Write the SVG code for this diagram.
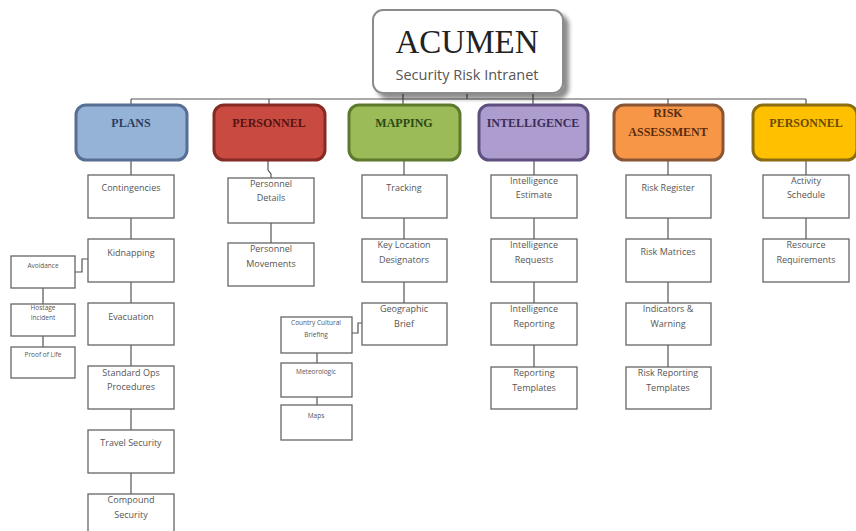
<svg xmlns="http://www.w3.org/2000/svg" width="856" height="531" viewBox="0 0 856 531">
<defs>
<filter id="sh" x="-10%" y="-10%" width="130%" height="140%">
<feGaussianBlur in="SourceAlpha" stdDeviation="2"/>
<feOffset dx="5" dy="5"/>
<feComponentTransfer><feFuncA type="linear" slope="0.45"/></feComponentTransfer>
<feMerge><feMergeNode/><feMergeNode in="SourceGraphic"/></feMerge>
</filter>
</defs>
<style>
.cat{stroke-width:3}
.ct{font-family:"Liberation Serif",serif;font-size:12px;font-weight:bold;text-anchor:middle}
.sb{fill:#fff;stroke:#666;stroke-width:1.3}
.st{font-family:"Open Sans","Liberation Sans",sans-serif;font-size:9px;fill:#555;text-anchor:middle}
.ss{font-family:"Open Sans","Liberation Sans",sans-serif;font-size:6.5px;fill:#555;text-anchor:middle}
.ln{fill:none;stroke:#555;stroke-width:1.2}
</style>
<rect width="856" height="531" fill="#fff"/>
<g id="connectors">
<path class="ln" d="M131 99 H806 M131 99 V105 M269 99 V105 M403 93 V105 M467 93 V99 M533 93 V105 M668 99 V105 M806 99 V105"/>
<path class="ln" d="M131 160 V175 M131 218 V239 M131 282 V303 M131 345 V366 M131 409 V430 M131 473 V494"/>
<path class="ln" d="M88 259 H82 V272 H75 M43 288 V304 M43 336 V347"/>
<path class="ln" d="M268 160 V170 L271 174 V178 M271 223 V243"/>
<path class="ln" d="M404 160 V175 M404 218 V239 M404 282 V303 M362 323 H358 V333 H352 M317 353 V363 M317 397 V405"/>
<path class="ln" d="M534 160 V175 M534 218 V239 M534 282 V303 M534 345 V367"/>
<path class="ln" d="M668 160 V175 M668 218 V239 M668 282 V303 M668 345 V367"/>
<path class="ln" d="M806 160 V175 M806 218 V239"/>
</g>
<g id="acumen">
<rect x="373" y="10" width="190" height="83" rx="10" fill="#fff" stroke="#8c8c8c" stroke-width="2" filter="url(#sh)"/>
<text x="467" y="53" font-family="Liberation Serif,serif" font-size="33" fill="#222" text-anchor="middle">ACUMEN</text>
<text x="467" y="80" font-family="Open Sans,Liberation Sans,sans-serif" font-size="14.5" fill="#555" text-anchor="middle">Security Risk Intranet</text>
</g>
<g id="cat-plans"><rect class="cat" x="76" y="105" width="111" height="55" rx="10" fill="#95b3d7" stroke="#566f92"/><text class="ct" x="131" y="127" fill="#2b3d5e">PLANS</text></g>
<g id="cat-personnel"><rect class="cat" x="214" y="105" width="111" height="55" rx="10" fill="#c84a40" stroke="#862a24"/><text class="ct" x="269" y="127" fill="#551410">PERSONNEL</text></g>
<g id="cat-mapping"><rect class="cat" x="349" y="105" width="111" height="55" rx="10" fill="#9bbb59" stroke="#5d7a2c"/><text class="ct" x="404" y="127" fill="#2d4912">MAPPING</text></g>
<g id="cat-intelligence"><rect class="cat" x="479" y="105" width="109" height="55" rx="10" fill="#ad9cce" stroke="#5f4f7f"/><text class="ct" x="533" y="127" fill="#3a2c5a">INTELLIGENCE</text></g>
<g id="cat-risk"><rect class="cat" x="614" y="105" width="109" height="55" rx="10" fill="#f79646" stroke="#8a5535"/><text class="ct" x="668" y="117" fill="#5a2c10">RISK</text><text class="ct" x="668" y="136" fill="#5a2c10">ASSESSMENT</text></g>
<g id="cat-personnel2"><rect class="cat" x="753" y="105" width="104" height="55" rx="10" fill="#ffc000" stroke="#8a6d12"/><text class="ct" x="806" y="127" fill="#6b4d00">PERSONNEL</text></g>
<g id="n-contingencies"><rect class="sb" x="88" y="175" width="86" height="43"/><text class="st" x="131" y="191">Contingencies</text></g>
<g id="n-kidnapping"><rect class="sb" x="88" y="239" width="86" height="43"/><text class="st" x="131" y="256">Kidnapping</text></g>
<g id="n-evacuation"><rect class="sb" x="88" y="303" width="86" height="42"/><text class="st" x="131" y="320">Evacuation</text></g>
<g id="n-sop"><rect class="sb" x="88" y="366" width="86" height="43"/><text class="st" x="131" y="376">Standard Ops</text><text class="st" x="131" y="390">Procedures</text></g>
<g id="n-travel"><rect class="sb" x="88" y="430" width="86" height="43"/><text class="st" x="131" y="446">Travel Security</text></g>
<g id="n-compound"><rect class="sb" x="88" y="494" width="86" height="43"/><text class="st" x="131" y="503">Compound</text><text class="st" x="131" y="518">Security</text></g>
<g id="n-avoidance"><rect class="sb" x="11" y="256" width="64" height="32"/><text class="ss" x="43" y="268">Avoidance</text></g>
<g id="n-hostage"><rect class="sb" x="11" y="304" width="64" height="32"/><text class="ss" x="43" y="310">Hostage</text><text class="ss" x="43" y="320">Incident</text></g>
<g id="n-proof"><rect class="sb" x="11" y="347" width="64" height="31"/><text class="ss" x="43" y="357">Proof of Life</text></g>
<g id="n-pdetails"><rect class="sb" x="228" y="178" width="86" height="45"/><text class="st" x="271" y="187">Personnel</text><text class="st" x="271" y="201">Details</text></g>
<g id="n-pmovements"><rect class="sb" x="228" y="243" width="86" height="43"/><text class="st" x="271" y="252">Personnel</text><text class="st" x="271" y="267">Movements</text></g>
<g id="n-tracking"><rect class="sb" x="362" y="175" width="85" height="43"/><text class="st" x="404" y="191">Tracking</text></g>
<g id="n-keyloc"><rect class="sb" x="362" y="239" width="85" height="43"/><text class="st" x="404" y="248">Key Location</text><text class="st" x="404" y="263">Designators</text></g>
<g id="n-geo"><rect class="sb" x="362" y="303" width="85" height="42"/><text class="st" x="404" y="312">Geographic</text><text class="st" x="404" y="327">Brief</text></g>
<g id="n-country"><rect class="sb" x="281" y="317" width="71" height="36"/><text class="ss" x="316" y="325">Country Cultural</text><text class="ss" x="316" y="337">Briefing</text></g>
<g id="n-meteo"><rect class="sb" x="281" y="363" width="71" height="34"/><text class="ss" x="316" y="374">Meteorologic</text></g>
<g id="n-maps"><rect class="sb" x="281" y="405" width="71" height="35"/><text class="ss" x="316" y="418">Maps</text></g>
<g id="n-iestimate"><rect class="sb" x="491" y="175" width="86" height="43"/><text class="st" x="534" y="184">Intelligence</text><text class="st" x="534" y="198">Estimate</text></g>
<g id="n-irequests"><rect class="sb" x="491" y="239" width="86" height="43"/><text class="st" x="534" y="248">Intelligence</text><text class="st" x="534" y="263">Requests</text></g>
<g id="n-ireporting"><rect class="sb" x="491" y="303" width="86" height="42"/><text class="st" x="534" y="312">Intelligence</text><text class="st" x="534" y="327">Reporting</text></g>
<g id="n-rtemplates"><rect class="sb" x="491" y="367" width="86" height="42"/><text class="st" x="534" y="376">Reporting</text><text class="st" x="534" y="391">Templates</text></g>
<g id="n-register"><rect class="sb" x="626" y="175" width="85" height="43"/><text class="st" x="668" y="191">Risk Register</text></g>
<g id="n-matrices"><rect class="sb" x="626" y="239" width="85" height="43"/><text class="st" x="668" y="255">Risk Matrices</text></g>
<g id="n-indicators"><rect class="sb" x="626" y="303" width="85" height="42"/><text class="st" x="668" y="312">Indicators &amp;</text><text class="st" x="668" y="327">Warning</text></g>
<g id="n-rrtemplates"><rect class="sb" x="626" y="367" width="85" height="42"/><text class="st" x="668" y="376">Risk Reporting</text><text class="st" x="668" y="391">Templates</text></g>
<g id="n-activity"><rect class="sb" x="763" y="175" width="86" height="43"/><text class="st" x="806" y="184">Activity</text><text class="st" x="806" y="198">Schedule</text></g>
<g id="n-resource"><rect class="sb" x="763" y="239" width="86" height="43"/><text class="st" x="806" y="248">Resource</text><text class="st" x="806" y="263">Requirements</text></g>
</svg>
